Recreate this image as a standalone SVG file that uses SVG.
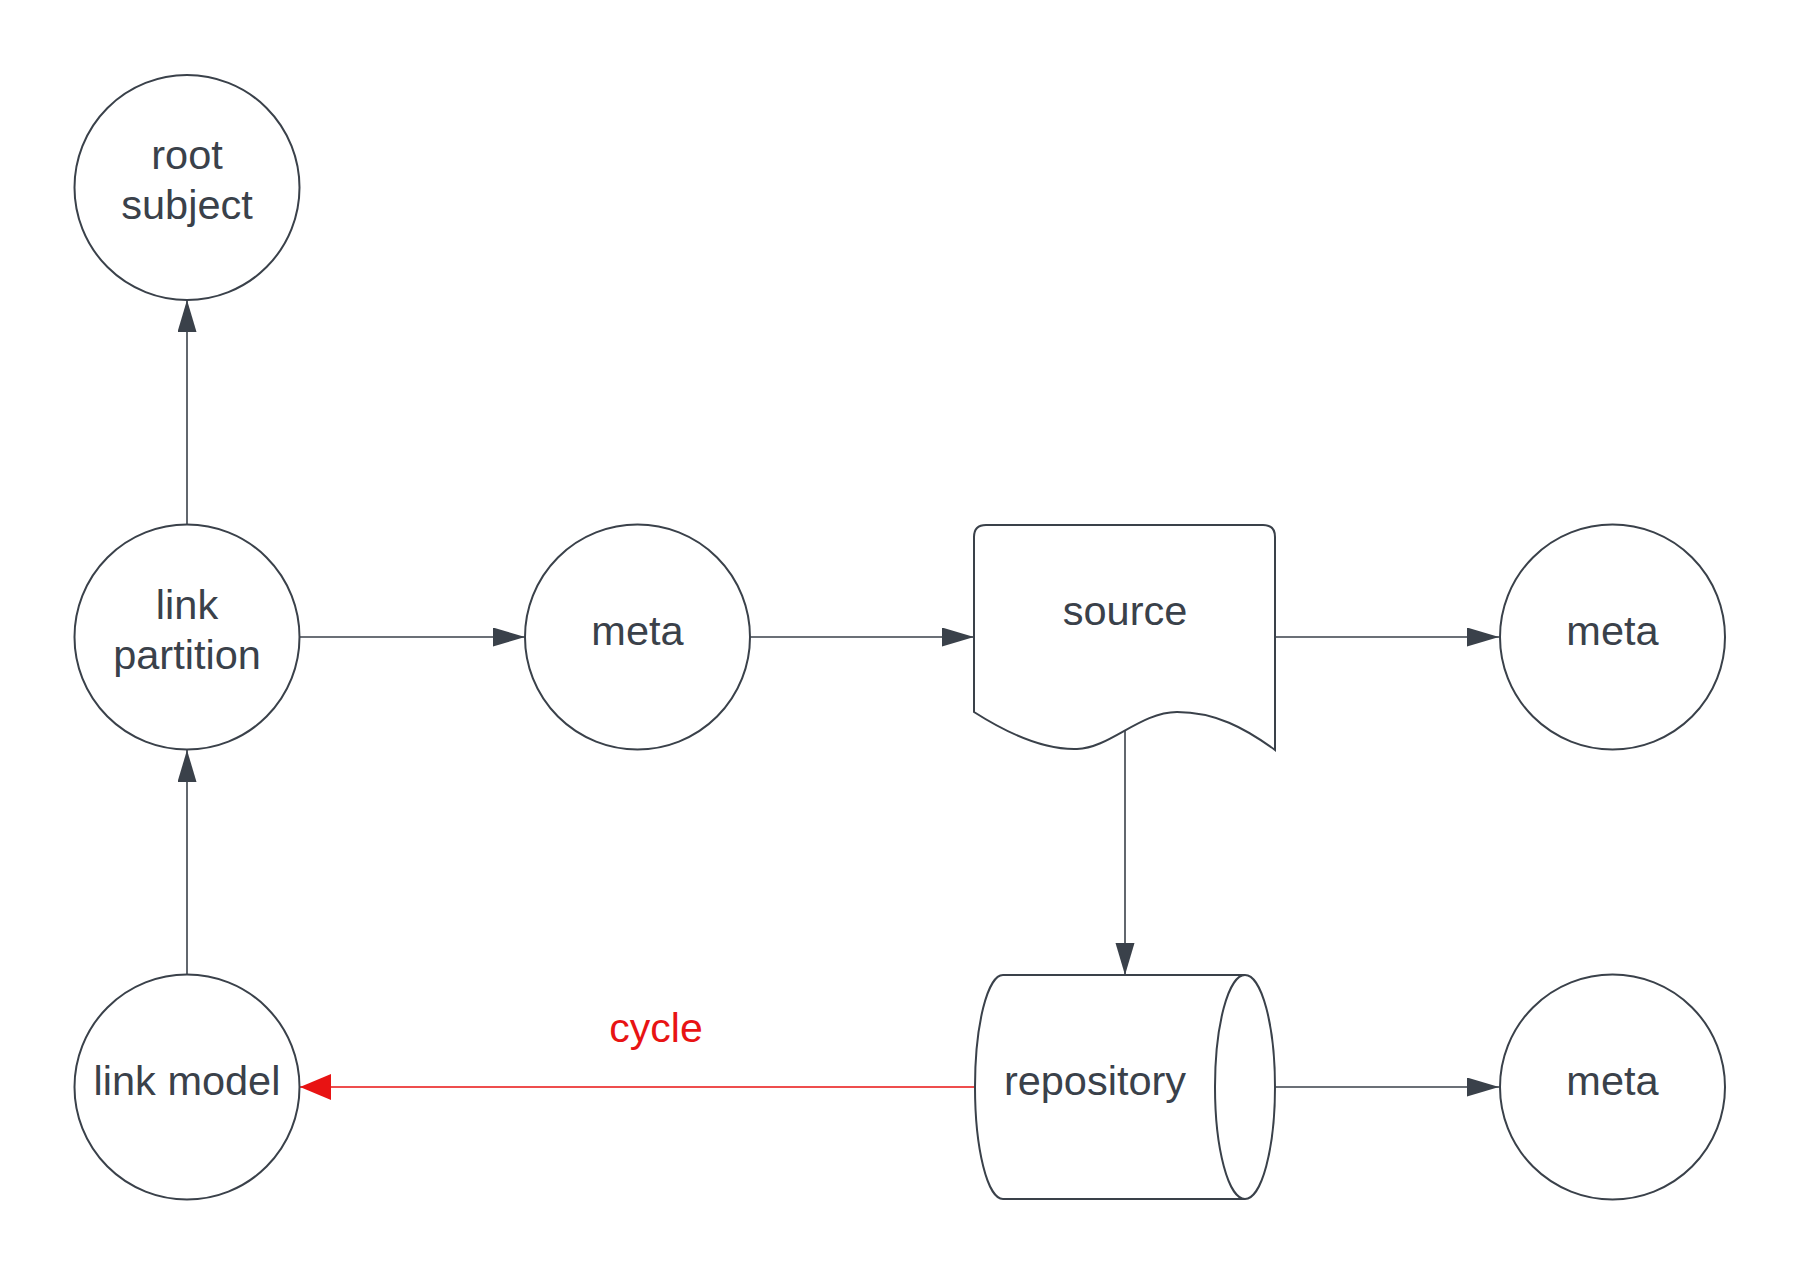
<svg xmlns="http://www.w3.org/2000/svg" width="1800" height="1275" viewBox="0 0 1800 1275">
<style>
.node{fill:#ffffff;stroke:#3a414a;stroke-width:2}
.lbl{font-family:"Liberation Sans",Arial,sans-serif;font-size:41.5px;fill:#3a414a;text-anchor:middle}
.conn{fill:none;stroke:#3a414a;stroke-width:1.6}
.red{fill:none;stroke:#e81313;stroke-width:1.3}
.redlbl{font-family:"Liberation Sans",Arial,sans-serif;font-size:41px;fill:#e81313;text-anchor:middle}
</style>
<defs>
<marker id="ah" markerUnits="userSpaceOnUse" markerWidth="34" markerHeight="21" refX="32" refY="9.5" orient="auto">
<path d="M0,0 L32,9.5 L0,19 Z" fill="#3a414a"/>
</marker>
<marker id="ahr" markerUnits="userSpaceOnUse" markerWidth="34" markerHeight="28" refX="31" refY="13" orient="auto">
<path d="M0,0 L31,13 L0,26 Z" fill="#e81313"/>
</marker>
</defs>
<rect width="1800" height="1275" fill="#ffffff"/>
<g id="connectors">
<line class="conn" x1="187" y1="525" x2="187" y2="300" marker-end="url(#ah)"/>
<line class="conn" x1="187" y1="975" x2="187" y2="750" marker-end="url(#ah)"/>
<line class="conn" x1="300" y1="637" x2="525" y2="637" marker-end="url(#ah)"/>
<line class="conn" x1="750" y1="637" x2="974" y2="637" marker-end="url(#ah)"/>
<line class="conn" x1="1275" y1="637" x2="1499" y2="637" marker-end="url(#ah)"/>
<line class="conn" x1="1125" y1="731" x2="1125" y2="975" marker-end="url(#ah)"/>
<line class="conn" x1="1275" y1="1087" x2="1499" y2="1087" marker-end="url(#ah)"/>
<line class="red" x1="975" y1="1087" x2="300" y2="1087" marker-end="url(#ahr)"/>
<text class="redlbl" x="656" y="1042">cycle</text>
</g>
<g id="root-subject">
<circle class="node" cx="187" cy="187.5" r="112.5"/>
<text class="lbl" x="187" y="169">root</text>
<text class="lbl" x="187" y="219">subject</text>
</g>
<g id="link-partition">
<circle class="node" cx="187" cy="637" r="112.5"/>
<text class="lbl" x="187" y="619">link</text>
<text class="lbl" x="187" y="669">partition</text>
</g>
<g id="link-model">
<circle class="node" cx="187" cy="1087" r="112.5"/>
<text class="lbl" x="187" y="1095">link model</text>
</g>
<g id="meta-1">
<circle class="node" cx="637.5" cy="637" r="112.5"/>
<text class="lbl" x="637.5" y="645">meta</text>
</g>
<g id="source">
<path class="node" d="M974,712 L974,537 Q974,525 986,525 L1263,525 Q1275,525 1275,537 L1275,750 C1245,728 1215,712 1177,712 C1140,712 1110,748 1077,749 C1045,750 1010,735 974,712 Z"/>
<text class="lbl" x="1125" y="625">source</text>
</g>
<g id="meta-2">
<circle class="node" cx="1612.5" cy="637" r="112.5"/>
<text class="lbl" x="1612.5" y="645">meta</text>
</g>
<g id="repository">
<path class="node" d="M1003,975 L1245,975 A30,112 0 0 1 1245,1199 L1003,1199 A28,112 0 0 1 1003,975 Z"/>
<path class="node" fill="none" d="M1245,975 A30,112 0 0 0 1245,1199"/>
<text class="lbl" x="1095" y="1095">repository</text>
</g>
<g id="meta-3">
<circle class="node" cx="1612.5" cy="1087" r="112.5"/>
<text class="lbl" x="1612.5" y="1095">meta</text>
</g>
</svg>
